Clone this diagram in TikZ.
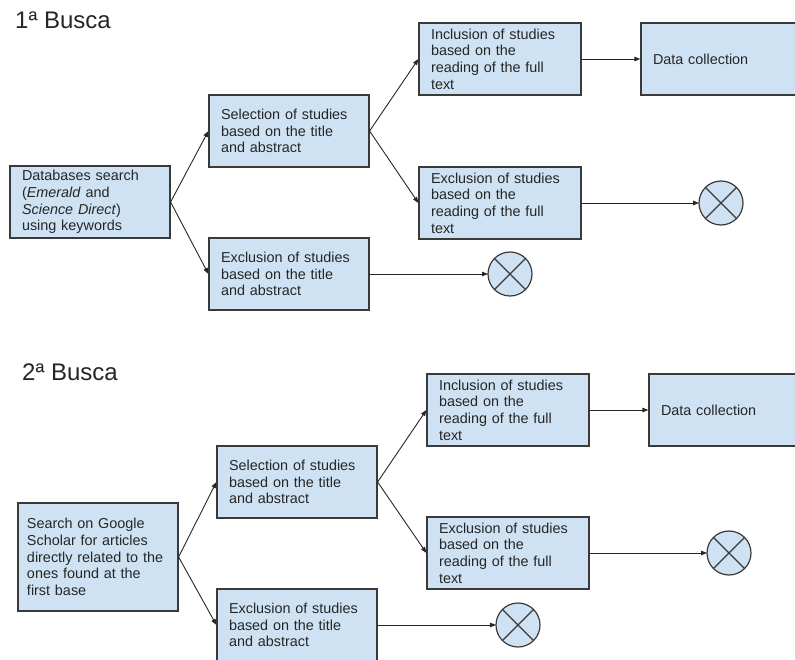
\documentclass[tikz,border=0pt]{standalone}
\usepackage{fontspec}
\setmainfont{Liberation Sans}
\usetikzlibrary{arrows.meta}
\definecolor{boxblue}{HTML}{CFE2F3}
\definecolor{boxline}{HTML}{3A3A3A}
\tikzset{
    stepbox/.style={rectangle, draw=boxline, fill=boxblue, line width=1.2pt,
        align=left, text width=136pt, inner xsep=12pt, inner ysep=0pt,
        minimum height=72pt, text=black!85,
        font=\fontsize{14.4}{16.7}\selectfont},
    stopmark/.style={circle, draw=boxline, fill=boxblue, line width=1.2pt,
        minimum size=44pt, inner sep=0pt, outer sep=0pt},
    flow/.style={draw=black!85, line width=0.9pt,
        -{Triangle[length=6pt, width=4.5pt]}},
    busca/.style={font=\fontsize{24}{28}\selectfont, text=black!85,
        anchor=base west, inner sep=0pt}
}

\begin{document}
\begin{tikzpicture}[x=1pt, y=-1pt]
    \useasboundingbox (0,0) rectangle (795,660);
    \clip (0,0) rectangle (795,660);

    % first search
    \node[busca] (title1) at (15, 29) {1ª Busca};
    \node[stepbox] (search1) at (90, 202)
        {Databases search\\(\textit{Emerald} and\\\textit{Science Direct})\\using keywords};
    \node[stepbox] (select1) at (289, 131)
        {Selection of studies\\based on the title\\and abstract};
    \node[stepbox] (exclta1) at (289, 274)
        {Exclusion of studies\\based on the title\\and abstract};
    \node[stepbox, text width=138pt] (inclft1) at (500, 59)
        {Inclusion of studies\\based on the\\reading of the full\\text};
    \node[stepbox, text width=138pt] (exclft1) at (500, 203)
        {Exclusion of studies\\based on the\\reading of the full\\text};
    \node[stepbox] (data1) at (721, 59) {Data collection};
    \node[stopmark] (stop1a) at (721, 203) {};
    \node[stopmark] (stop1b) at (510, 274) {};

    \draw[flow] (search1.east) -- (select1.west);
    \draw[flow] (search1.east) -- (exclta1.west);
    \draw[flow] (select1.east) -- (inclft1.west);
    \draw[flow] (select1.east) -- (exclft1.west);
    \draw[flow] (inclft1.east) -- (data1.west);
    \draw[flow] (exclft1.east) -- (stop1a.west);
    \draw[flow] (exclta1.east) -- (stop1b.west);

    % second search
    \node[busca] (title2) at (22, 380) {2ª Busca};
    \node[stepbox, minimum height=108pt, text width=142pt, inner xsep=9pt]
        (search2) at (98, 557)
        {Search on Google\\Scholar for articles\\directly related to the\\ones found at the\\first base};
    \node[stepbox] (select2) at (297, 482)
        {Selection of studies\\based on the title\\and abstract};
    \node[stepbox] (exclta2) at (297, 625)
        {Exclusion of studies\\based on the title\\and abstract};
    \node[stepbox, text width=138pt] (inclft2) at (508, 410)
        {Inclusion of studies\\based on the\\reading of the full\\text};
    \node[stepbox, text width=138pt] (exclft2) at (508, 553)
        {Exclusion of studies\\based on the\\reading of the full\\text};
    \node[stepbox] (data2) at (729, 410) {Data collection};
    \node[stopmark] (stop2a) at (729, 553) {};
    \node[stopmark] (stop2b) at (518, 625) {};

    \draw[flow] (search2.east) -- (select2.west);
    \draw[flow] (search2.east) -- (exclta2.west);
    \draw[flow] (select2.east) -- (inclft2.west);
    \draw[flow] (select2.east) -- (exclft2.west);
    \draw[flow] (inclft2.east) -- (data2.west);
    \draw[flow] (exclft2.east) -- (stop2a.west);
    \draw[flow] (exclta2.east) -- (stop2b.west);

    % crosses in the end marks
    \foreach \s in {stop1a, stop1b, stop2a, stop2b}
        \draw[boxline, line width=1.2pt]
            (\s.north east) -- (\s.south west)
            (\s.north west) -- (\s.south east);
\end{tikzpicture}
\end{document}
